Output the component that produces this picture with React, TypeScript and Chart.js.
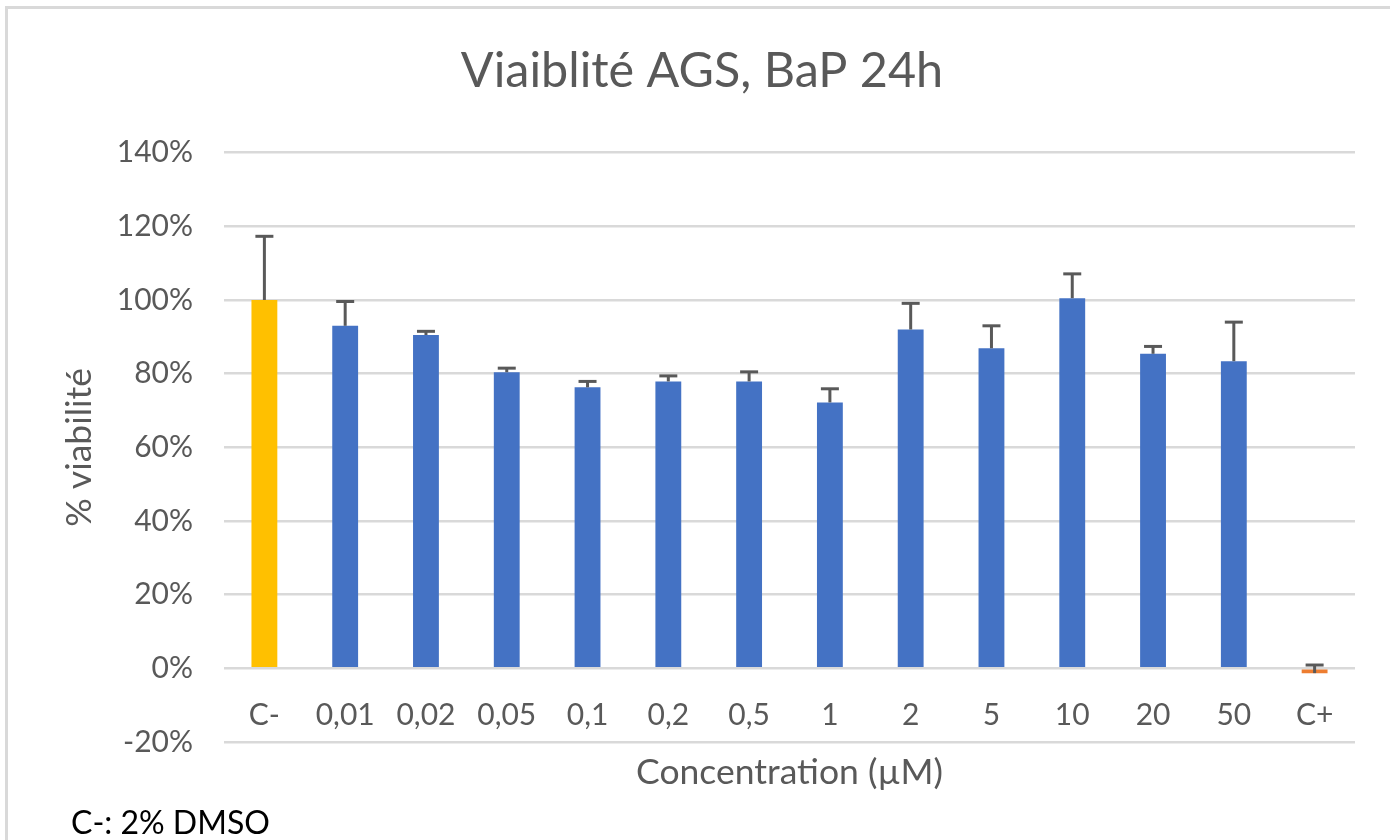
import React, { useEffect, useRef } from "react";
import { Chart, registerables } from "chart.js";

Chart.register(...registerables);

// ---- data ----
const categories = ["C-", "0,01", "0,02", "0,05", "0,1", "0,2", "0,5", "1", "2", "5", "10", "20", "50", "C+"];
const viability = [100, 93.0, 90.5, 80.4, 76.3, 77.9, 77.9, 72.2, 92.0, 86.9, 100.5, 85.4, 83.4, -1.3];
const errorPlus = [17.3, 6.6, 1.0, 1.1, 1.6, 1.5, 2.6, 3.7, 7.1, 6.1, 6.6, 2.0, 10.6, 2.2];
const yTicks = [-20, 0, 20, 40, 60, 80, 100, 120, 140];
const controlColors: Record<string, string> = { "C-": "#FFC000", "C+": "#ED7D31" };
const seriesColor = "#4472C4";

const titleText = "Viaiblité AGS, BaP 24h";
const yTitle = "% viabilité";
const xTitle = "Concentration (µM)";
const footnote = "C-: 2% DMSO";

const FONT = "Lato, 'Open Sans', sans-serif";
const GREY = "#595959";

const errorBarPlugin = {
  id: "errorBars",
  afterDatasetsDraw(chart: any) {
    const meta = chart.getDatasetMeta(0);
    const yScale = chart.scales.y;
    const ctx = chart.ctx;
    ctx.save();
    ctx.strokeStyle = GREY;
    ctx.lineWidth = 3;
    ctx.lineCap = "butt";
    meta.data.forEach((bar: any, i: number) => {
      const x = bar.x;
      const y0 = yScale.getPixelForValue(viability[i]);
      const y1 = yScale.getPixelForValue(viability[i] + errorPlus[i]);
      ctx.beginPath();
      ctx.moveTo(x, y0);
      ctx.lineTo(x, y1);
      ctx.stroke();
      ctx.beginPath();
      ctx.moveTo(x - 9, y1);
      ctx.lineTo(x + 9, y1);
      ctx.stroke();
    });
    ctx.restore();
  },
};

export default function App() {
  const canvasRef = useRef<HTMLCanvasElement | null>(null);

  useEffect(() => {
    if (!canvasRef.current) return;
    const chart = new Chart(canvasRef.current, {
      type: "bar",
      data: {
        labels: categories,
        datasets: [
          {
            data: viability,
            backgroundColor: categories.map((c) => controlColors[c] || seriesColor),
            barPercentage: 0.32,
            categoryPercentage: 1,
            xAxisID: "x",
            yAxisID: "y",
          },
        ],
      },
      options: {
        responsive: false,
        animation: false,
        layout: { padding: { left: 49, right: 35, top: 0, bottom: 0 } },
        plugins: {
          legend: { display: false },
          tooltip: { enabled: false },
          title: {
            display: true,
            text: titleText,
            color: GREY,
            font: { family: FONT, size: 48.5, weight: "normal", lineHeight: 1.2 },
            padding: { top: 42, bottom: 52.5 },
          },
        },
        scales: {
          x: {
            type: "category",
            position: { y: 0 },
            grid: { display: false, drawTicks: false },
            border: { display: false },
            ticks: {
              color: GREY,
              font: { family: FONT, size: 30, lineHeight: 1.2 },
              padding: 29,
              autoSkip: false,
              maxRotation: 0,
            },
          },
          x2: {
            type: "category",
            position: "bottom",
            grid: { display: false, drawTicks: false },
            border: { display: false },
            ticks: { display: false },
            title: {
              display: true,
              text: xTitle,
              color: GREY,
              font: { family: FONT, size: 35.5, lineHeight: 1.2 },
              padding: { top: 9.7, bottom: 45.7 },
            },
          },
          y: {
            min: -20,
            max: 140,
            afterBuildTicks: (s: any) => {
              s.ticks = yTicks.map((v) => ({ value: v }));
            },
            afterFit: (s: any) => {
              s.width = 175;
            },
            grid: { color: "#d9d9d9", lineWidth: 2.5, drawTicks: false },
            border: { display: false },
            ticks: {
              color: GREY,
              font: { family: FONT, size: 30, lineHeight: 1.2 },
              padding: 31,
              callback: (v: any) => v + "%",
            },
            title: {
              display: true,
              text: yTitle,
              color: GREY,
              font: { family: FONT, size: 35.5, lineHeight: 1.2 },
              padding: { top: 9, bottom: 0 },
            },
          },
        },
      },
      plugins: [errorBarPlugin],
    } as any);
    return () => chart.destroy();
  }, []);

  return (
    <div style={{ position: "absolute", left: 0, top: 0, width: 1390, height: 840, background: "#fff", overflow: "hidden" }}>
      <div
        style={{
          position: "absolute",
          left: 5,
          top: 6,
          width: 1385,
          height: 834,
          borderTop: "3px solid #d9d9d9",
          borderLeft: "3px solid #d9d9d9",
          boxSizing: "border-box",
        }}
      />
      <canvas
        ref={canvasRef}
        width={1390}
        height={840}
        style={{ position: "absolute", left: 0, top: 0, display: "block" }}
      />
      <div
        style={{
          position: "absolute",
          left: 71,
          top: 806,
          fontFamily: FONT,
          fontSize: 32,
          lineHeight: 1,
          color: "#000",
          whiteSpace: "nowrap",
        }}
      >
        {footnote}
      </div>
    </div>
  );
}
